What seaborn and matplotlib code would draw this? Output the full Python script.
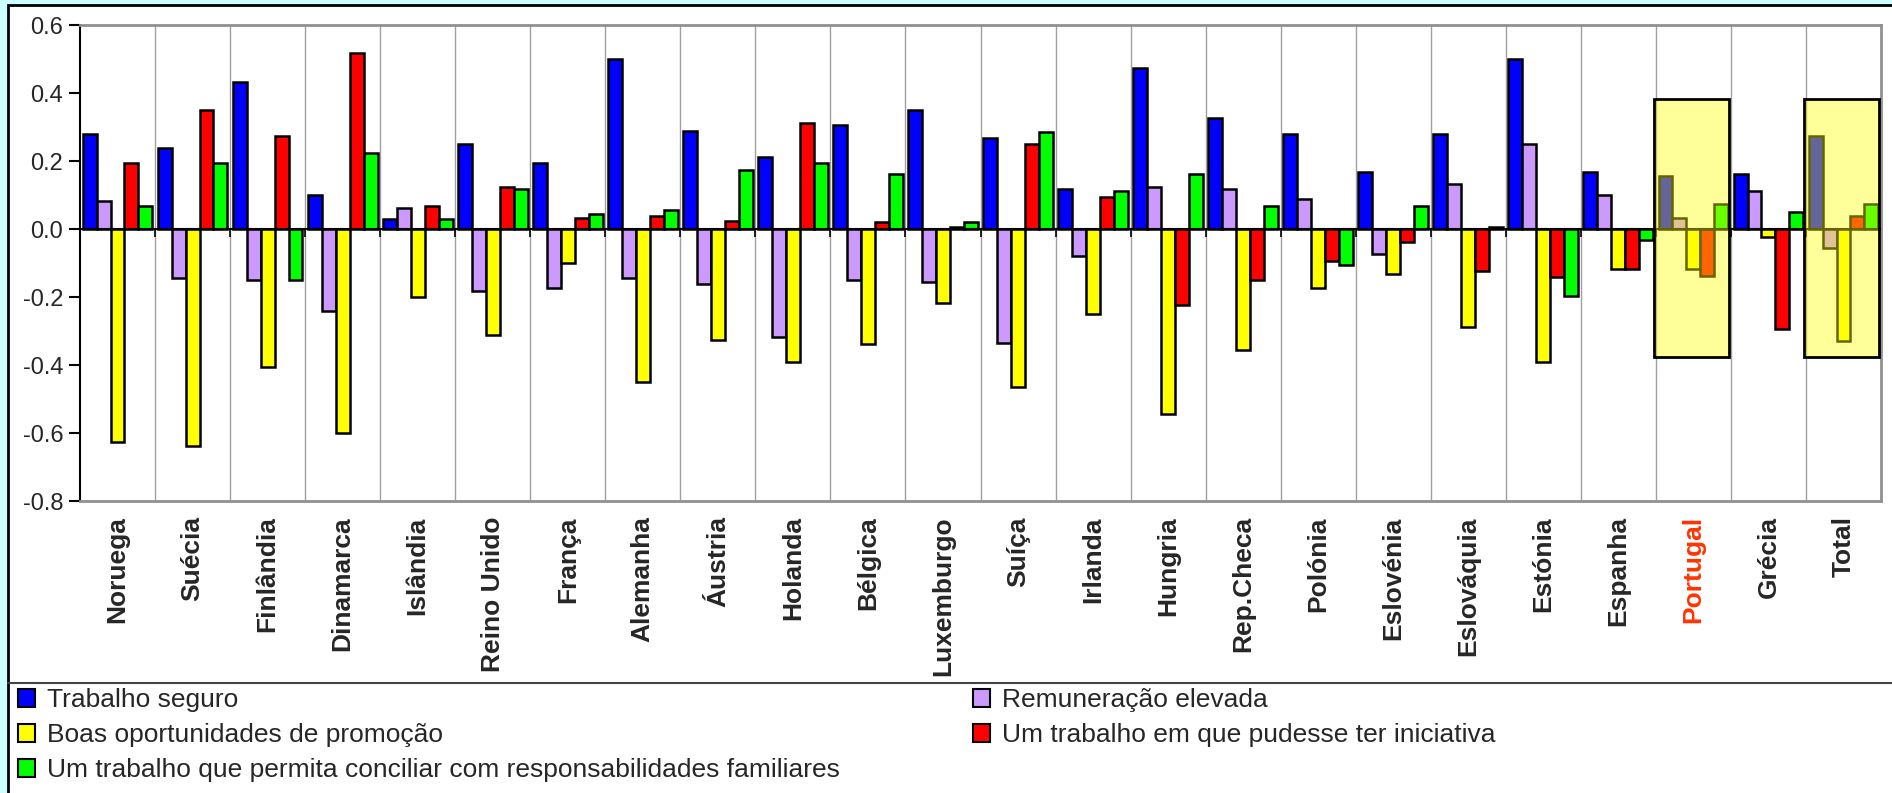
import numpy as np
import pandas as pd
import matplotlib.pyplot as plt
import seaborn as sns
from matplotlib.patches import Patch, Rectangle
from matplotlib.lines import Line2D

# ── data ──────────────────────────────────────────────────────
countries = ['Noruega', 'Suécia', 'Finlândia', 'Dinamarca', 'Islândia', 'Reino Unido',
             'França', 'Alemanha', 'Áustria', 'Holanda', 'Bélgica', 'Luxemburgo',
             'Suíça', 'Irlanda', 'Hungria', 'Rep.Checa', 'Polónia', 'Eslovénia',
             'Eslováquia', 'Estónia', 'Espanha', 'Portugal', 'Grécia', 'Total']

series = ['Trabalho seguro',
          'Remuneração elevada',
          'Boas oportunidades de promoção',
          'Um trabalho em que pudesse ter iniciativa',
          'Um trabalho que permita conciliar com responsabilidades familiares']

trabalho_seguro = [0.280, 0.238, 0.431, 0.100, 0.030, 0.249, 0.193, 0.499, 0.287, 0.212, 0.306, 0.349,
                   0.268, 0.118, 0.473, 0.325, 0.280, 0.168, 0.280, 0.499, 0.168, 0.156, 0.162, 0.274]
remuneracao = [0.082, -0.144, -0.151, -0.242, 0.063, -0.181, -0.174, -0.143, -0.161, -0.318, -0.150, -0.157,
               -0.336, -0.080, 0.123, 0.118, 0.087, -0.074, 0.131, 0.250, 0.100, 0.031, 0.112, -0.056]
promocao = [-0.626, -0.638, -0.405, -0.601, -0.200, -0.312, -0.100, -0.449, -0.325, -0.392, -0.337, -0.218,
            -0.466, -0.249, -0.543, -0.355, -0.174, -0.131, -0.287, -0.392, -0.117, -0.117, -0.024, -0.329]
iniciativa = [0.194, 0.349, 0.274, 0.518, 0.068, 0.124, 0.031, 0.037, 0.025, 0.311, 0.020, 0.007,
              0.250, 0.093, -0.223, -0.150, -0.093, -0.037, -0.124, -0.142, -0.117, -0.137, -0.294, 0.037]
conciliar = [0.068, 0.194, -0.151, 0.224, 0.030, 0.118, 0.043, 0.056, 0.174, 0.193, 0.162, 0.020,
             0.286, 0.112, 0.162, 0.068, -0.106, 0.068, 0.005, -0.198, -0.031, 0.075, 0.050, 0.075]

y_ticks = [-0.8, -0.6, -0.4, -0.2, 0.0, 0.2, 0.4, 0.6]
y_labels = ['-0.8', '-0.6', '-0.4', '-0.2', '0.0', '0.2', '0.4', '0.6']

colors = ['#0000FF', '#CC99FF', '#FFFF00', '#FF0000', '#00FF00']
highlighted = ['Portugal', 'Total']
box_low, box_high = -0.375, 0.381

df = pd.DataFrame({'pais': countries,
                   series[0]: trabalho_seguro, series[1]: remuneracao,
                   series[2]: promocao, series[3]: iniciativa, series[4]: conciliar})
long = df.melt(id_vars='pais', var_name='serie', value_name='valor')

# ── figure ───────────────────────────────────────────────────
sns.set_style('white')
plt.rcParams['font.family'] = ['Liberation Sans', 'DejaVu Sans']

fig = plt.figure(figsize=(18.92, 7.93), dpi=100)
fig.patch.set_facecolor('#CCFFFF')

# white chart panel with black border
fig.patches.append(Rectangle((8 / 1892, -0.05), 1.05, 1.05 - 4.5 / 793,
                             transform=fig.transFigure, facecolor='white',
                             edgecolor='black', linewidth=2, zorder=-10))
# separator above legend
fig.lines.append(Line2D([8 / 1892, 1], [1 - 683 / 793] * 2, transform=fig.transFigure,
                        color='#444444', linewidth=1.5))

ax = fig.add_axes([80 / 1892, 1 - 501 / 793, 1801 / 1892, 476 / 793])
ax.set_facecolor('white')

sns.barplot(data=long, x='pais', y='valor', hue='serie', order=countries, hue_order=series,
            palette=colors, saturation=1, width=0.93, gap=0, edgecolor='black', linewidth=1.8,
            errorbar=None, legend=False, ax=ax, zorder=3)

n = len(countries)
ax.set_xlim(-0.5, n - 0.5)
ax.set_ylim(-0.8, 0.6)
ax.set_yticks(y_ticks)
ax.set_yticklabels(y_labels, fontsize=17)
ax.tick_params(axis='y', length=8, width=1.5, color='black', pad=4, left=True)
ax.tick_params(axis='x', length=0, pad=11)
ax.set_xticks(range(n))
ax.set_xticklabels(countries, rotation=90, fontsize=19, fontweight='bold', va='top', ha='center')
for lab in ax.get_xticklabels():
    if lab.get_text() == 'Portugal':
        lab.set_color('#FF3300')
ax.set_xlabel('')
ax.set_ylabel('')

# category separators, zero line and its small ticks
bounds = np.arange(0.5, n - 0.5, 1)
ax.vlines(bounds, -0.8, 0.6, colors='#A0A0A0', linewidth=1, zorder=1)
ax.axhline(0, color='black', linewidth=1.5, zorder=4)
ax.vlines(bounds, -0.024, 0, colors='black', linewidth=1.2, zorder=4)

for side in ['top', 'right', 'bottom']:
    ax.spines[side].set_color('#909090')
    ax.spines[side].set_linewidth(2)
ax.spines['left'].set_color('black')
ax.spines['left'].set_linewidth(1.5)

# highlight boxes
for name in highlighted:
    i = countries.index(name)
    ax.add_patch(Rectangle((i - 0.53, box_low), 1.0, box_high - box_low,
                           facecolor=(1, 1, 0, 0.4), edgecolor='black', linewidth=2, zorder=5))

# legend in two columns
handles = [Patch(facecolor=c, edgecolor='black', linewidth=1.5, label=s) for c, s in zip(colors, series)]
leg_kw = dict(frameon=False, fontsize=19, handlelength=0.65, handleheight=0.65,
              handletextpad=0.45, labelspacing=0.42, borderpad=0, borderaxespad=0, loc='upper left')
fig.legend(handles=[handles[0], handles[2], handles[4]], bbox_to_anchor=(18 / 1892, 1 - 688 / 793), **leg_kw)
fig.legend(handles=[handles[1], handles[3]], bbox_to_anchor=(973 / 1892, 1 - 688 / 793), **leg_kw)

plt.savefig('out.png', dpi=100, facecolor=fig.get_facecolor())
plt.close()
